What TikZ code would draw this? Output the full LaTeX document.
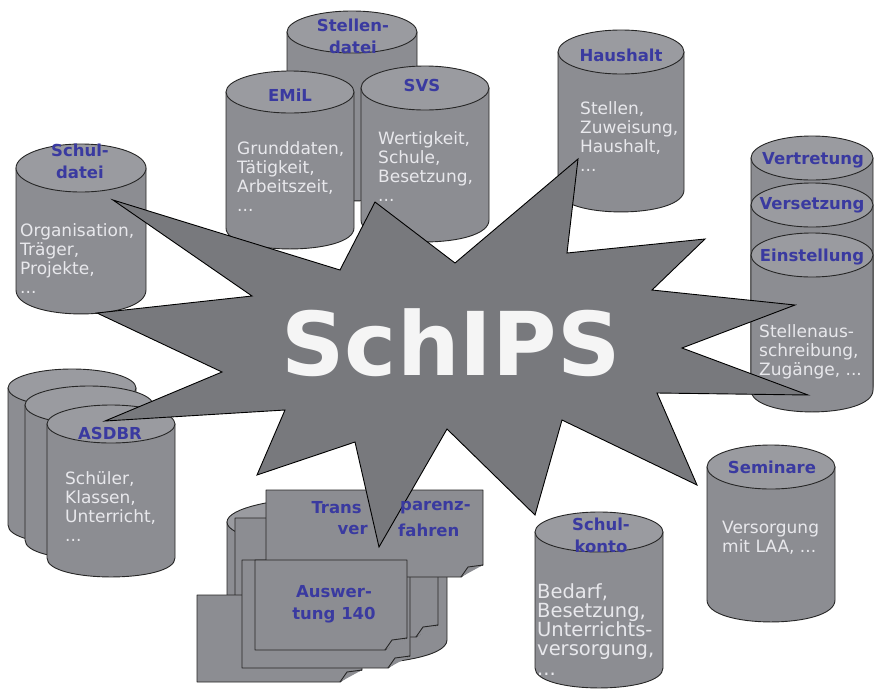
\documentclass[tikz,border=0pt]{standalone}
\usepackage{fontspec}
\setmainfont{DejaVu Sans}
\definecolor{cylgray}{RGB}{140,141,146}
\definecolor{lidgray}{RGB}{154,155,160}
\definecolor{stargray}{RGB}{120,121,125}
\definecolor{titleblue}{RGB}{58,58,160}
\definecolor{infowhite}{RGB}{232,232,236}

\begin{document}
\begin{tikzpicture}[x=1pt, y=-1pt,
	body/.style={fill=cylgray, draw=black!85, line width=0.9pt},
	lid/.style={fill=lidgray, draw=black!85, line width=0.9pt},
	sheet/.style={fill=cylgray, draw=black!85, line width=0.9pt, line join=round},
	burst/.style={fill=stargray, draw=black, line width=0.9pt, line join=miter},
	title/.style={text=titleblue, font=\bfseries\fontsize{16.5}{22}\selectfont, align=center, inner sep=0pt},
	info/.style={text=infowhite, font=\fontsize{17}{19}\selectfont, align=left, anchor=north west, inner sep=0pt}]

	\useasboundingbox (0,0) rectangle (875,689);

%cylinders
	\foreach \cx/\a/\yt/\yb/\ry in {81/65/168/290/24, 352/65/32/180/21, 290/64/92/228/21, 425/64/88/220/22,
		621/63/52/190/22, 812/61/158/385/22, 812/61/205/388/22, 812/61/255/390/22,
		72/64/388/525/19, 89/64/405/540/19, 111/64/424/558/19, 771/64/467/600/22, 599/64/532/668/20,
		337/110/522/640/25}{
		\filldraw[body] ({\cx-\a},\yt) -- ({\cx-\a},\yb) .. controls ({\cx-\a},{\yb+1.33*\ry}) and ({\cx+\a},{\yb+1.33*\ry}) .. ({\cx+\a},\yb) -- ({\cx+\a},\yt) -- cycle;
		\filldraw[lid] (\cx,\yt) ellipse [x radius=\a, y radius=\ry];
	}

%sheets
	\foreach \xa/\ya/\xb/\yb in {235/518/438/637, 197/595/362/682, 242/560/410/668, 266/490/483/577, 255/560/407/650}{
		\filldraw[sheet] (\xa,\ya) -- (\xb,\ya) -- (\xb,{\yb-12}) .. controls ({\xb-8},{\yb-10}) and ({\xb-14},{\yb-6}) .. ({\xb-22},\yb) -- (\xa,\yb) -- cycle;
		\draw[sheet] (\xb,{\yb-12}) -- ({\xb-15},{\yb-10}) -- ({\xb-22},\yb);
	}

%star
	\filldraw[burst] (113,200) -- (340,270) -- (375,202) -- (455,263) -- (578,159) -- (567,253) -- (705,239)
		-- (652,290) -- (795,305) -- (682,348) -- (808,395) -- (657,393) -- (697,485) -- (562,420)
		-- (535,515) -- (447,429) -- (379,547) -- (355,442) -- (257,475) -- (285,410) -- (105,421)
		-- (222,372) -- (97,313) -- (252,296) -- cycle;
	\node[text=white!96!black, font=\bfseries\fontsize{88}{88}\selectfont, inner sep=0pt] (schips) at (451,343) {SchIPS};

%titles
	\foreach \xy/\name/\txt in {{(353,36)/stellen/{Stellen-\\datei}}, {(290,95)/emil/EMiL}, {(422,85)/svs/SVS},
		{(80,161)/schul/{Schul-\\datei}}, {(621,55)/haus/Haushalt}, {(813,160)/vertr/Vertretung},
		{(812,205)/verse/Versetzung}, {(812,257)/einst/Einstellung}, {(110,433)/asdbr/ASDBR},
		{(772,467)/semin/Seminare}, {(601,535)/konto/{Schul-\\konto}}, {(334,604)/ausw/{Auswer-\\tung 140}}}{
		\node[title] (\name) at \xy {\txt};
	}

%texts
	\foreach \xy/\name/\txt in {{(20,223)/schulinfo/{Organisation,\\Träger,\\Projekte,\\...}},
		{(237,141)/emilinfo/{Grunddaten,\\Tätigkeit,\\Arbeitszeit,\\...}},
		{(378,131)/svsinfo/{Wertigkeit,\\Schule,\\Besetzung,\\...}},
		{(580,101)/hausinfo/{Stellen,\\Zuweisung,\\Haushalt,\\...}},
		{(759,324)/einstinfo/{Stellenaus-\\schreibung,\\Zugänge, ...}},
		{(65,471)/asdbrinfo/{Schüler,\\Klassen,\\Unterricht,\\...}},
		{(722,521)/semininfo/{Versorgung\\mit LAA, ...}}}{
		\node[info] (\name) at \xy {\txt};
	}
	\node[info, font=\fontsize{19.5}{19.3}\selectfont] (kontoinfo) at (537,583) {Bedarf,\\Besetzung,\\Unterrichts-\\versorgung,\\...};

%Transparenzverfahren, split round the tip
	\node[title, anchor=east] (transa) at (362,508) {Trans};
	\node[title, anchor=west] (transb) at (400,508) {parenz-};
	\node[title, anchor=east] (vera) at (368,530) {ver};
	\node[title, anchor=west] (verb) at (398,530) {fahren};

\end{tikzpicture}
\end{document}
